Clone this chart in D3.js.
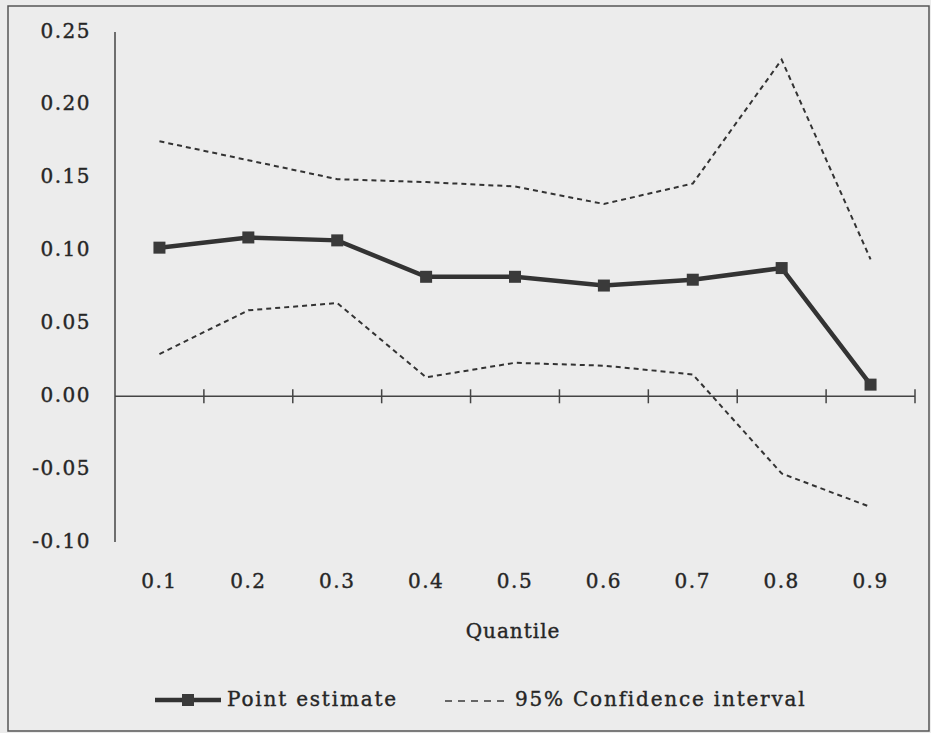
<!DOCTYPE html>
<html>
<head>
<meta charset="utf-8">
<script src="https://cdn.jsdelivr.net/npm/d3@7"></script>
<style>
  body { margin: 0; background: #ececec; }
  text { font-family: "DejaVu Serif", "Liberation Serif", serif; fill: #262626; stroke: #262626; stroke-width: 0.4px; }
</style>
</head>
<body>
<div id="chart"></div>
<script>
const WIDTH = 931;
const HEIGHT = 733;

// datos
const quantiles = ["0.1", "0.2", "0.3", "0.4", "0.5", "0.6", "0.7", "0.8", "0.9"];
const pointEstimate = [0.102, 0.109, 0.107, 0.082, 0.082, 0.076, 0.080, 0.088, 0.008];
const upperCI = [0.175, 0.162, 0.149, 0.147, 0.144, 0.132, 0.146, 0.231, 0.094];
const lowerCI = [0.029, 0.059, 0.064, 0.013, 0.023, 0.021, 0.015, -0.053, -0.076];
const yTicks = [-0.10, -0.05, 0.00, 0.05, 0.10, 0.15, 0.20, 0.25];

const svg = d3.select("#chart")
  .append("svg")
  .attr("width", WIDTH)
  .attr("height", HEIGHT);

// marco exterior
svg.append("rect")
  .attr("x", 8).attr("y", 6)
  .attr("width", 921).attr("height", 725)
  .attr("fill", "#ececec")
  .attr("stroke", "#555")
  .attr("stroke-width", 1.5);

const escalaX = d3.scaleBand()
  .domain(quantiles)
  .range([115, 915]);

const escalaY = d3.scaleLinear()
  .domain([-0.10, 0.25])
  .range([542, 32]);

const y0 = escalaY(0);

// eje Y
svg.append("line")
  .attr("x1", 115).attr("x2", 115)
  .attr("y1", escalaY(0.25)).attr("y2", escalaY(-0.10))
  .attr("stroke", "#444").attr("stroke-width", 1.5);

svg.selectAll(".ylabel")
  .data(yTicks)
  .join("text")
  .attr("class", "ylabel")
  .attr("x", 91)
  .attr("y", d => escalaY(d))
  .attr("text-anchor", "end")
  .attr("dominant-baseline", "middle")
  .style("font-size", "20px")
  .style("letter-spacing", "1.5px")
  .text(d => d3.format(".2f")(d).replace("−", "-"));

// eje X
svg.append("line")
  .attr("x1", 115).attr("x2", 915)
  .attr("y1", y0).attr("y2", y0)
  .attr("stroke", "#444").attr("stroke-width", 1.5);

svg.selectAll(".xtick")
  .data(quantiles)
  .join("line")
  .attr("class", "xtick")
  .attr("x1", d => escalaX(d) + escalaX.bandwidth())
  .attr("x2", d => escalaX(d) + escalaX.bandwidth())
  .attr("y1", y0 - 7).attr("y2", y0 + 7)
  .attr("stroke", "#444").attr("stroke-width", 1.5);

svg.selectAll(".xlabel")
  .data(quantiles)
  .join("text")
  .attr("class", "xlabel")
  .attr("x", d => escalaX(d) + escalaX.bandwidth() / 2)
  .attr("y", 582)
  .attr("text-anchor", "middle")
  .attr("dominant-baseline", "middle")
  .style("font-size", "20px")
  .style("letter-spacing", "1.5px")
  .text(d => d);

svg.append("text")
  .attr("x", 513)
  .attr("y", 632)
  .attr("text-anchor", "middle")
  .attr("dominant-baseline", "middle")
  .style("font-size", "20px")
  .style("letter-spacing", "1px")
  .text("Quantile");

// lineas
const xc = i => escalaX(quantiles[i]) + escalaX.bandwidth() / 2;
const linea = d3.line()
  .x((d, i) => xc(i))
  .y(d => escalaY(d));

[upperCI, lowerCI].forEach(serie => {
  svg.append("path")
    .attr("d", linea(serie))
    .attr("fill", "none")
    .attr("stroke", "#333")
    .attr("stroke-width", 2)
    .attr("stroke-dasharray", "5,4");
});

svg.append("path")
  .attr("d", linea(pointEstimate))
  .attr("fill", "none")
  .attr("stroke", "#333")
  .attr("stroke-width", 4.5);

const size = 12;
svg.selectAll(".marker")
  .data(pointEstimate)
  .join("rect")
  .attr("class", "marker")
  .attr("x", (d, i) => xc(i) - size / 2)
  .attr("y", d => escalaY(d) - size / 2)
  .attr("width", size)
  .attr("height", size)
  .attr("fill", "#3a3a3a");

// leyenda
const ly = 700;
svg.append("line")
  .attr("x1", 155).attr("x2", 221)
  .attr("y1", ly).attr("y2", ly)
  .attr("stroke", "#333").attr("stroke-width", 4.5);
svg.append("rect")
  .attr("x", 188 - size / 2).attr("y", ly - size / 2)
  .attr("width", size).attr("height", size)
  .attr("fill", "#3a3a3a");
svg.append("text")
  .attr("x", 227).attr("y", ly)
  .attr("dominant-baseline", "middle")
  .style("font-size", "20px")
  .style("letter-spacing", "1.8px")
  .text("Point estimate");

svg.append("line")
  .attr("x1", 445).attr("x2", 504)
  .attr("y1", ly + 1).attr("y2", ly + 1)
  .attr("stroke", "#3a3a3a").attr("stroke-width", 1.5)
  .attr("stroke-dasharray", "7,6");
svg.append("text")
  .attr("x", 515).attr("y", ly)
  .attr("dominant-baseline", "middle")
  .style("font-size", "20px")
  .style("letter-spacing", "1.8px")
  .text("95% Confidence interval");
</script>
</body>
</html>
